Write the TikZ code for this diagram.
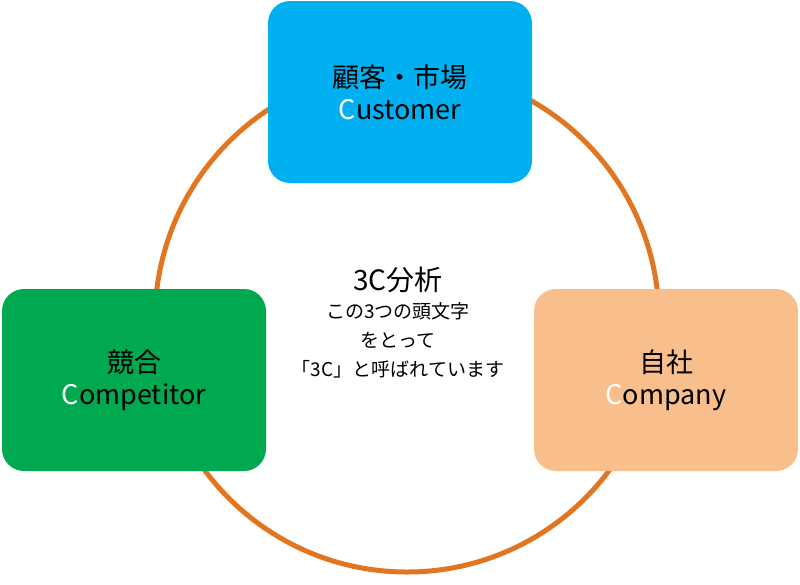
\documentclass[tikz,border=0pt]{standalone}
\usepackage{fontspec}
\usetikzlibrary{positioning}
\setmainfont{Noto Sans CJK JP}
\definecolor{ring}{RGB}{226,118,32}
\definecolor{custblue}{RGB}{0,176,240}
\definecolor{compgreen}{RGB}{0,168,80}
\definecolor{ownpeach}{RGB}{248,190,140}
\newcommand{\initC}{\textcolor{white}{C}}
\begin{document}
\begin{tikzpicture}[x=1pt, y=-1pt,
  box/.style = {draw=none, rounded corners=22pt, minimum width=264pt, minimum height=182pt, inner sep=0pt},
  label/.style = {font=\fontsize{27}{32}\selectfont, align=center}]
  \useasboundingbox (0,0) rectangle (800,584);
  \draw[ring, line width=5pt] (407,320) circle (252);
  \node[box, fill=custblue] (cust) at (400,92) {};
  \node[box, fill=compgreen] (comp) at (134,380) {};
  \node[box, fill=ownpeach] (own) at (666,380) {};
  \node[label] (custtext) at (cust) {顧客・市場\\\initC ustomer};
  \node[label] (comptext) at (comp) {競合\\\initC ompetitor};
  \node[label] (owntext) at (own) {自社\\\initC ompany};
  \node[font=\fontsize{28}{32}\selectfont] (title) at (398,280) {3C分析};
  \node[font=\fontsize{19}{29}\selectfont, align=center, below=2pt of title] (note) {この3つの頭文字\\をとって\\「3C」と呼ばれています};
\end{tikzpicture}
\end{document}
